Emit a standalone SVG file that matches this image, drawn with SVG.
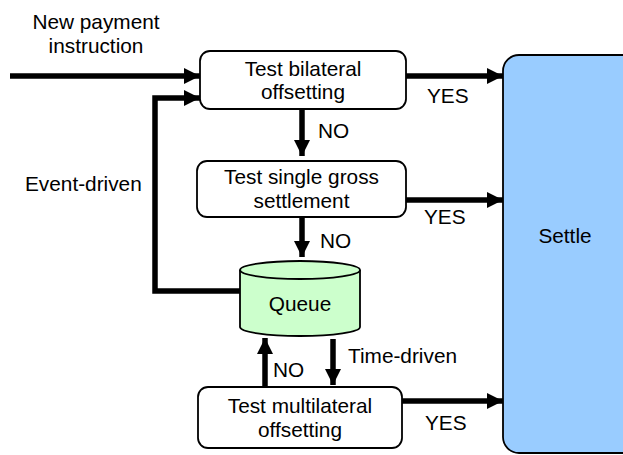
<svg xmlns="http://www.w3.org/2000/svg" width="623" height="455" viewBox="0 0 623 455">
  <style>
    text { font-family: "Liberation Sans", Arial, sans-serif; font-size: 20.8px; fill: #000; }
    .mid { text-anchor: middle; }
    .box { fill: #fff; stroke: #000; stroke-width: 1.8; }
    .wire { fill: none; stroke: #000; stroke-width: 5.5; }
  </style>
  <defs>
    <marker id="head" viewBox="0 0 16 16" refX="16" refY="8" markerWidth="16" markerHeight="16" markerUnits="userSpaceOnUse" orient="auto">
      <path d="M0,0 L16,8 L0,16 Z" fill="#000"/>
    </marker>
    <marker id="headV" viewBox="0 0 17 20" refX="20" refY="8.5" markerWidth="20" markerHeight="17" markerUnits="userSpaceOnUse" orient="auto">
      <path d="M0,0 L20,8.5 L0,17 Z" fill="#000"/>
    </marker>
  </defs>

  <!-- connectors -->
  <g id="connectors">
    <line class="wire" x1="10" y1="76" x2="200" y2="76" marker-end="url(#head)"/>
    <polyline class="wire" points="240,291 155,291 155,98 200,98" marker-end="url(#head)"/>
    <line class="wire" x1="406" y1="76" x2="503" y2="76" marker-end="url(#head)"/>
    <line class="wire" x1="406" y1="200" x2="503" y2="200" marker-end="url(#head)"/>
    <line class="wire" x1="402" y1="401" x2="503" y2="401" marker-end="url(#head)"/>
    <line class="wire" x1="302" y1="110" x2="302" y2="156" marker-end="url(#head)"/>
    <line class="wire" x1="302" y1="218" x2="302" y2="257" marker-end="url(#head)"/>
    <line class="wire" x1="265" y1="387" x2="265" y2="338" marker-end="url(#head)"/>
    <line class="wire" x1="333" y1="339" x2="333" y2="385" marker-end="url(#head)"/>
    <text x="96" y="29" class="mid">New payment</text>
    <text x="96" y="53" class="mid">instruction</text>
    <text x="25" y="191">Event-driven</text>
    <text x="318" y="138">NO</text>
    <text x="320" y="248">NO</text>
    <text x="273" y="377">NO</text>
    <text x="348" y="363">Time-driven</text>
    <text x="427" y="103">YES</text>
    <text x="424" y="224">YES</text>
    <text x="425" y="430">YES</text>
  </g>

  <g id="bilateral">
    <rect class="box" x="200" y="51" width="206" height="58" rx="10"/>
    <text x="303" y="76" class="mid">Test bilateral</text>
    <text x="303" y="99" class="mid">offsetting</text>
  </g>

  <g id="gross">
    <rect class="box" x="197" y="161" width="209" height="56" rx="10"/>
    <text x="301.5" y="184" class="mid">Test single gross</text>
    <text x="301.5" y="208" class="mid">settlement</text>
  </g>

  <g id="queue">
    <path d="M240,270 L240,327 A60,9 0 0 0 360,327 L360,270" fill="#ccffcc" stroke="#000" stroke-width="1.8"/>
    <ellipse cx="300" cy="270" rx="60" ry="9" fill="#ccffcc" stroke="#000" stroke-width="1.8"/>
    <text x="300" y="311" class="mid">Queue</text>
  </g>

  <g id="multilateral">
    <rect class="box" x="198" y="387" width="204" height="61" rx="10"/>
    <text x="300" y="413" class="mid">Test multilateral</text>
    <text x="300" y="437" class="mid">offsetting</text>
  </g>

  <g id="settle">
    <rect x="503" y="55" width="140" height="398" rx="16" fill="#99ccff" stroke="#000" stroke-width="1.8"/>
    <text x="565" y="243" class="mid">Settle</text>
  </g>
</svg>
